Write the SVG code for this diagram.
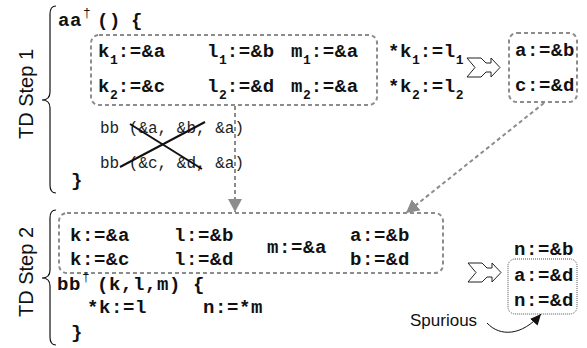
<svg xmlns="http://www.w3.org/2000/svg" width="587" height="348" viewBox="0 0 587 348">
  <style>
    .code { font-family: "Liberation Mono", "DejaVu Sans Mono", monospace; font-size: 19px; font-weight: bold; letter-spacing: 0.6px; fill: #111; }
    .call { font-family: "Liberation Mono", "DejaVu Sans Mono", monospace; font-size: 16px; fill: #222; }
    .sub { font-size: 13px; letter-spacing: 0; }
    .sup { font-size: 13px; font-weight: normal; letter-spacing: 0; }
    .label { font-family: "Liberation Sans", Arial, sans-serif; font-size: 20px; fill: #111; }
    .note { font-family: "Liberation Sans", Arial, sans-serif; font-size: 17px; fill: #111; }
    .group { fill: none; stroke: #8c8c8c; stroke-width: 2; stroke-dasharray: 4 3; }
    .result { fill: none; stroke: #555; stroke-width: 1; stroke-dasharray: 1 1; }
    .brace { fill: none; stroke: #111; stroke-width: 1.2; }
    .flow { fill: none; stroke: #8c8c8c; stroke-width: 2; stroke-dasharray: 4 3; }
    .strike { stroke: #111; stroke-width: 2; }
    .implies { fill: #fff; stroke: #222; stroke-width: 1; }
  </style>
  <defs>
    <marker id="grayHead" markerWidth="14" markerHeight="14" refX="13" refY="7" orient="auto" markerUnits="userSpaceOnUse">
      <path d="M0,0 L13,7 L0,14 Z" fill="#8c8c8c"/>
    </marker>
    <marker id="blackHead" markerWidth="12" markerHeight="10" refX="11" refY="5" orient="auto" markerUnits="userSpaceOnUse">
      <path d="M0,0 L11,5 L0,10 Z" fill="#111"/>
    </marker>
    <path id="impliesArrow" d="M0,0 L14,0 L19,5 L24,5 L24,0 L33,9.5 L24,19 L24,14 L19,14 L14,19 L0,19 L8,9.5 Z"/>
  </defs>

  <!-- Step 1 -->
  <g id="step1-label">
    <text class="label" transform="translate(33,94) rotate(-90)" text-anchor="middle">TD Step 1</text>
    <path class="brace" d="M56,6 Q50,6 50,14 L50,92 Q50,100 42,100 Q50,100 50,108 L50,185 Q50,193 56,193"/>
  </g>

  <g id="aa-header">
    <text class="code" x="58" y="26">aa</text>
    <text class="code sup" x="83" y="17">†</text>
    <text class="code" x="97" y="26">()</text>
    <text class="code" x="131" y="26">{</text>
  </g>

  <g id="aa-assignments">
    <rect class="group" x="91" y="35" width="286" height="70" rx="8"/>
    <text class="code" x="98" y="57">k<tspan class="sub" dy="7">1</tspan><tspan dy="-7">:=&amp;a</tspan></text>
    <text class="code" x="207" y="57">l<tspan class="sub" dy="7">1</tspan><tspan dy="-7">:=&amp;b</tspan></text>
    <text class="code" x="291" y="57">m<tspan class="sub" dy="7">1</tspan><tspan dy="-7">:=&amp;a</tspan></text>
    <text class="code" x="98" y="92">k<tspan class="sub" dy="7">2</tspan><tspan dy="-7">:=&amp;c</tspan></text>
    <text class="code" x="207" y="92">l<tspan class="sub" dy="7">2</tspan><tspan dy="-7">:=&amp;d</tspan></text>
    <text class="code" x="291" y="92">m<tspan class="sub" dy="7">2</tspan><tspan dy="-7">:=&amp;a</tspan></text>
  </g>

  <g id="aa-stores">
    <text class="code" x="388" y="57">*k<tspan class="sub" dy="7">1</tspan><tspan dy="-7">:=l</tspan><tspan class="sub" dy="7">1</tspan></text>
    <text class="code" x="388" y="92">*k<tspan class="sub" dy="7">2</tspan><tspan dy="-7">:=l</tspan><tspan class="sub" dy="7">2</tspan></text>
  </g>

  <g id="aa-calls">
    <text class="call" x="100" y="133" xml:space="preserve">bb (&amp;a, &amp;b, &amp;a)</text>
    <text class="call" x="100" y="168" xml:space="preserve">bb (&amp;c, &amp;d, &amp;a)</text>
    <line class="strike" x1="120" y1="167" x2="205" y2="122"/>
    <line class="strike" x1="130" y1="124" x2="202" y2="169"/>
    <text class="code" x="71" y="186">}</text>
  </g>

  <g id="aa-implies">
    <use href="#impliesArrow" class="implies" x="467" y="58"/>
  </g>

  <g id="aa-result">
    <rect class="group" x="509" y="33" width="68" height="69" rx="8"/>
    <text class="code" x="515" y="56">a:=&amp;b</text>
    <text class="code" x="515" y="91">c:=&amp;d</text>
  </g>

  <!-- Step 2 -->
  <g id="step2-label">
    <text class="label" transform="translate(33,272) rotate(-90)" text-anchor="middle">TD Step 2</text>
    <path class="brace" d="M56,210 Q50,210 50,218 L50,270 Q50,278 42,278 Q50,278 50,286 L50,337 Q50,345 56,345"/>
  </g>

  <g id="bb-params">
    <rect class="group" x="59" y="213" width="384" height="60" rx="8"/>
    <text class="code" x="70" y="241">k:=&amp;a</text>
    <text class="code" x="70" y="265">k:=&amp;c</text>
    <text class="code" x="174" y="241">l:=&amp;b</text>
    <text class="code" x="174" y="265">l:=&amp;d</text>
    <text class="code" x="267" y="253">m:=&amp;a</text>
    <text class="code" x="350" y="241">a:=&amp;b</text>
    <text class="code" x="350" y="265">b:=&amp;d</text>
  </g>

  <g id="bb-body">
    <text class="code" x="57" y="290">bb</text>
    <text class="code sup" x="82" y="281">†</text>
    <text class="code" x="97" y="290">(k,l,m)</text>
    <text class="code" x="193" y="290">{</text>
    <text class="code" x="87" y="313">*k:=l</text>
    <text class="code" x="203" y="313">n:=*m</text>
    <text class="code" x="71" y="338">}</text>
  </g>

  <g id="bb-implies">
    <use href="#impliesArrow" class="implies" x="468" y="263"/>
  </g>

  <g id="bb-result">
    <text class="code" x="514" y="255">n:=&amp;b</text>
    <rect class="result" x="508" y="259" width="69" height="55" rx="7"/>
    <text class="code" x="514" y="281">a:=&amp;d</text>
    <text class="code" x="514" y="306">n:=&amp;d</text>
  </g>

  <g id="spurious-note">
    <text class="note" x="410" y="326">Spurious</text>
  </g>

  <!-- connectors -->
  <g id="connectors">
    <line class="flow" x1="235" y1="106" x2="235" y2="212" marker-end="url(#grayHead)"/>
    <line class="flow" x1="544" y1="103" x2="406" y2="213" marker-end="url(#grayHead)"/>
    <path d="M487,323 C500,337 522,336 541,314" fill="none" stroke="#111" stroke-width="1" marker-end="url(#blackHead)"/>
  </g>
</svg>
